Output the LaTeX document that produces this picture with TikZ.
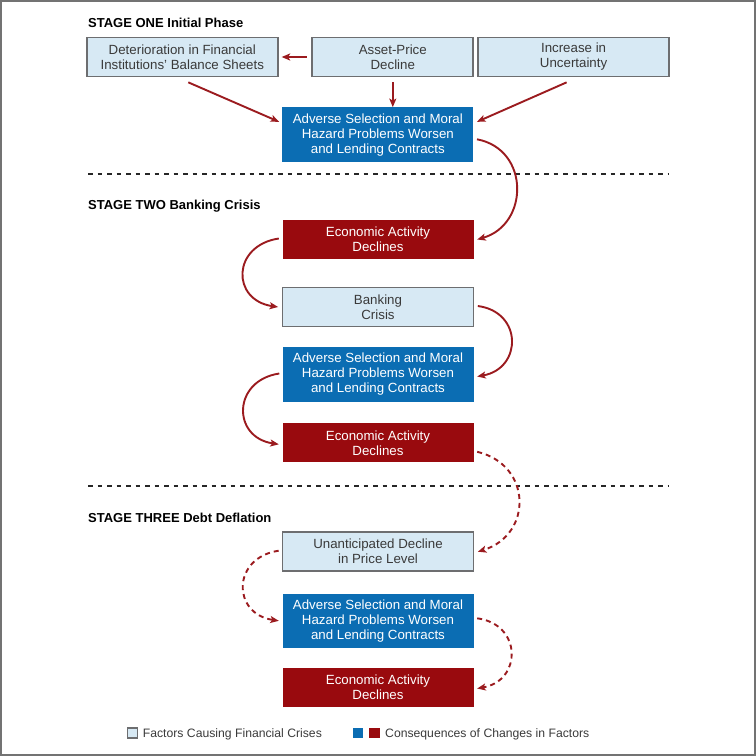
\documentclass[tikz,border=0pt]{standalone}
\usepackage{fontspec}
\setmainfont{Liberation Sans}
\usetikzlibrary{arrows.meta}
\definecolor{lightbox}{HTML}{D7E9F4}
\definecolor{boxborder}{HTML}{6D6E70}
\definecolor{bluebox}{HTML}{0B6DB3}
\definecolor{redbox}{HTML}{990A0E}
\definecolor{arrowred}{HTML}{9B1B1F}
\definecolor{darktext}{HTML}{3A3A3A}
\tikzset{
  boxbase/.style={minimum height=39pt, inner sep=0pt, align=center,
    font=\fontsize{13.3}{15}\selectfont},
  factorbox/.style={boxbase, fill=lightbox, draw=boxborder, line width=1.7pt, text=darktext},
  bluecons/.style={boxbase, fill=bluebox, text=white},
  redcons/.style={boxbase, fill=redbox, text=white},
  conn/.style={draw=arrowred, line width=1.9pt, -{Stealth[length=8.5pt,width=7pt,inset=2pt]}},
  dconn/.style={conn, dash pattern=on 5pt off 4pt},
  stagetitle/.style={anchor=base west, inner sep=0pt, font=\fontsize{13}{15}\selectfont\bfseries},
  sep/.style={draw=black!85, line width=1.6pt, dash pattern=on 4.5pt off 5pt},
  legendtext/.style={anchor=base west, inner sep=0pt, text=darktext, font=\fontsize{12.2}{14}\selectfont},
}
\begin{document}
\begin{tikzpicture}[x=1pt,y=-1pt]
\useasboundingbox (0,0) rectangle (756,756);
\draw[draw=black!55, line width=2.5pt] (1,1) rectangle (755,755);

% stage titles
\node[stagetitle] (t1) at (88,27.4) {STAGE ONE Initial Phase};
\node[stagetitle] (t2) at (88,209.6) {STAGE TWO Banking Crisis};
\node[stagetitle] (t3) at (88,522) {STAGE THREE Debt Deflation};

% separators
\coordinate (s1a) at (88,174); \coordinate (s1b) at (668,174);
\coordinate (s2a) at (88,486); \coordinate (s2b) at (668,486);
\draw[sep] (s1a) -- (s1b);
\draw[sep] (s2a) -- (s2b);

% stage one
\node[factorbox, minimum width=191pt] (det) at (182.3,57) {Deterioration in Financial\\Institutions’ Balance Sheets};
\node[factorbox, minimum width=161pt] (asset) at (392.8,57) {Asset-Price\\Decline};
\node[factorbox, minimum width=191pt] (incr) at (573.6,57) {Increase in\\Uncertainty};
\node[bluecons, minimum width=191pt, minimum height=55pt] (b1) at (377.8,134.8) {Adverse Selection and Moral\\Hazard Problems Worsen\\and Lending Contracts};

% stage two
\node[redcons, minimum width=191pt] (e1) at (378,239.5) {Economic Activity\\Declines};
\node[factorbox, minimum width=191pt] (bank) at (378,307) {Banking\\Crisis};
\node[bluecons, minimum width=191pt, minimum height=54.4pt] (b2) at (378,374.5) {Adverse Selection and Moral\\Hazard Problems Worsen\\and Lending Contracts};
\node[redcons, minimum width=191pt] (e2) at (378,442.8) {Economic Activity\\Declines};

% stage three
\node[factorbox, minimum width=191pt] (unant) at (378,551.7) {Unanticipated Decline\\in Price Level};
\node[bluecons, minimum width=191pt, minimum height=53.7pt] (b3) at (378,620.8) {Adverse Selection and Moral\\Hazard Problems Worsen\\and Lending Contracts};
\node[redcons, minimum width=191pt, minimum height=38.4pt] (e3) at (378,687.5) {Economic Activity\\Declines};

% stage one connectors
\draw[conn] ([xshift=-4.5pt]asset.west) -- ([xshift=3pt]det.east);
\draw[conn] ([yshift=-5pt]asset.south) -- (asset.south |- b1.north);
\draw[conn] ([xshift=6pt,yshift=-5pt]det.south) -- ([xshift=-3pt,yshift=13pt]b1.west);
\draw[conn] ([xshift=-7pt,yshift=-5pt]incr.south) -- ([xshift=3.5pt,yshift=13pt]b1.east);
\draw[conn] ([xshift=3.5pt,yshift=-4.5pt]b1.east) .. controls +(53,10) and +(52,-15) .. ([xshift=3.5pt]e1.east);

% stage two connectors
\draw[conn] ([xshift=-3.5pt,yshift=1pt]e1.west) .. controls +(-47,7) and +(-47,-7) .. ([xshift=-3.5pt]bank.west);
\draw[conn] ([xshift=3.5pt,yshift=1pt]bank.east) .. controls +(45,6) and +(45,-8) .. ([xshift=3.5pt,yshift=-2pt]b2.east);
\draw[conn] ([xshift=-3pt,yshift=1pt]b2.west) .. controls +(-47,7) and +(-47,-7) .. ([xshift=-3.5pt,yshift=-1.5pt]e2.west);
\draw[dconn] ([xshift=3.5pt,yshift=-9pt]e2.east) .. controls +(55,13) and +(55,-17) .. ([xshift=3.5pt]unant.east);

% stage three connectors
\draw[dconn] ([xshift=-3pt,yshift=1pt]unant.west) .. controls +(-47,7) and +(-47,-7) .. ([xshift=-3.5pt]b3.west);
\draw[dconn] ([xshift=3.5pt,yshift=2.5pt]b3.east) .. controls +(45,6) and +(45,-8) .. ([xshift=3.5pt,yshift=-1pt]e3.east);

% legend
\node[draw=boxborder, fill=lightbox, line width=1.4pt, minimum size=10pt, inner sep=0pt] (lg1) at (132.3,733) {};
\node[legendtext] (lt1) at (142.7,737.4) {Factors Causing Financial Crises};
\node[fill=bluebox, minimum size=10.6pt, inner sep=0pt] (lg2) at (358,733) {};
\node[fill=redbox, minimum size=10.6pt, inner sep=0pt] (lg3) at (374.7,733) {};
\node[legendtext] (lt2) at (385,737.4) {Consequences of Changes in Factors};
\end{tikzpicture}
\end{document}
